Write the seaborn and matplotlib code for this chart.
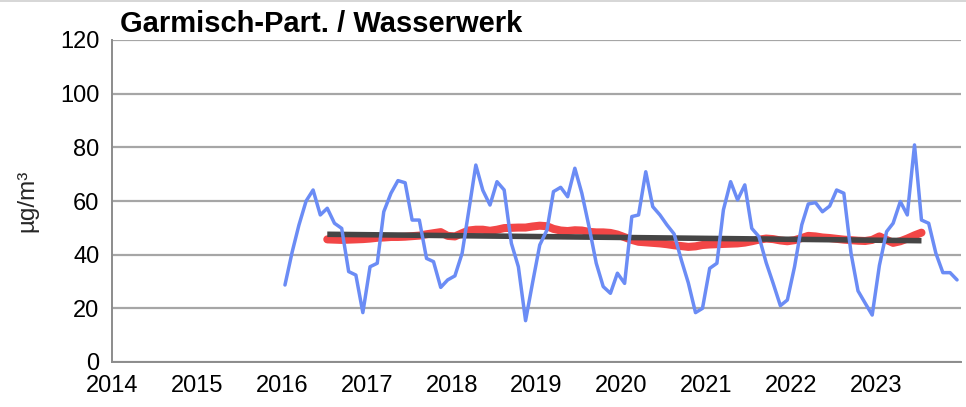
import numpy as np
import pandas as pd
import matplotlib
matplotlib.use("Agg")
import matplotlib.pyplot as plt
import matplotlib.dates as mdates
import seaborn as sns

# ---------------- data ----------------
title = "Garmisch-Part. / Wasserwerk"
y_label = "µg/m³"
year_ticks = list(range(2014, 2025))
year_labels = [str(y) for y in range(2014, 2024)] + [""]
y_ticks = [0, 20, 40, 60, 80, 100, 120]

# monthly means Jan 2016 .. Dec 2023
monthly_2016 = [28.7, 41.0, 51.0, 60.0, 64.1, 54.8, 57.3, 51.7, 49.8, 33.7, 32.4, 18.4]
monthly_2017 = [35.5, 36.8, 56.0, 62.9, 67.6, 66.8, 52.9, 52.9, 38.6, 37.4, 27.8, 30.6]
monthly_2018 = [32.1, 40.5, 56.0, 73.4, 64.0, 58.5, 67.2, 64.1, 44.2, 35.5, 15.4, 29.5]
monthly_2019 = [43.6, 49.2, 63.5, 65.1, 61.6, 72.2, 62.9, 50.4, 36.8, 28.1, 25.6, 33.1]
monthly_2020 = [29.3, 54.2, 54.8, 70.9, 57.9, 54.8, 51.1, 47.7, 38.0, 29.5, 18.4, 20.0]
monthly_2021 = [34.9, 36.8, 56.7, 67.2, 60.4, 66.0, 49.8, 46.7, 37.0, 29.3, 21.0, 23.1]
monthly_2022 = [35.5, 51.1, 58.9, 59.4, 56.0, 58.1, 64.1, 62.9, 40.5, 26.5, 21.9, 17.5]
monthly_2023 = [36.0, 48.6, 51.7, 59.8, 54.8, 80.9, 52.9, 51.7, 40.5, 33.3, 33.3, 30.6]

# 12-month running mean, Jul 2016 .. Jul 2023
running_mean = [
    45.7, 45.6, 45.5, 45.6, 45.7, 45.8,                                   # 2016 Jul-Dec
    46.0, 46.3, 46.4, 46.6, 46.6, 46.7, 46.9, 47.1, 47.6, 48.0, 48.4, 47.0,  # 2017
    46.8, 48.0, 49.0, 49.3, 49.3, 48.9, 49.3, 49.9, 50.0, 50.1, 50.1, 50.5,  # 2018
    50.8, 50.6, 49.6, 49.0, 48.8, 49.1, 49.0, 48.5, 48.3, 48.3, 48.1, 47.5,  # 2019
    46.5, 45.5, 44.8, 44.6, 44.4, 44.2, 43.9, 43.5, 43.2, 42.9, 43.1, 43.6,  # 2020
    43.8, 43.9, 44.0, 44.1, 44.2, 44.5, 45.0, 45.6, 46.0, 45.8, 45.3, 45.0,  # 2021
    45.4, 46.2, 47.0, 46.8, 46.4, 46.2, 45.9, 45.6, 45.4, 45.2, 45.1, 45.5,  # 2022
    46.8, 45.5, 44.4, 45.0, 46.0, 47.2, 48.2,                             # 2023 Jan-Jul
]

# linear trend, start (Jul 2016) and end (Jul 2023)
trend_values = [47.6, 45.2]

# ---------------- frames ----------------
monthly = (monthly_2016 + monthly_2017 + monthly_2018 + monthly_2019 +
           monthly_2020 + monthly_2021 + monthly_2022 + monthly_2023)
dates = pd.date_range("2016-01-01", periods=len(monthly), freq="MS") + pd.Timedelta(days=14)
df_month = pd.DataFrame({"date": dates, "value": monthly})
df_run = pd.DataFrame({"date": dates[6:6 + len(running_mean)], "value": running_mean})
df_trend = pd.DataFrame({"date": [dates[6], dates[6 + len(running_mean) - 1]],
                         "value": trend_values})

# ---------------- plot ----------------
sns.set_theme(style="white")
plt.rcParams["font.family"] = ["Liberation Sans", "DejaVu Sans"]

fig = plt.figure(figsize=(9.66, 4.07), dpi=100)
ax = fig.add_axes([112 / 966, 1 - 362 / 407, (961 - 112) / 966, (362 - 40) / 407])

sns.lineplot(data=df_run, x="date", y="value", ax=ax, color="#F24646",
             linewidth=5.8, solid_capstyle="round", zorder=3)
sns.lineplot(data=df_trend, x="date", y="value", ax=ax, color="#454545",
             linewidth=4.0, solid_capstyle="butt", zorder=4)
sns.lineplot(data=df_month, x="date", y="value", ax=ax, color="#6B8CF5",
             linewidth=2.5, zorder=5)

ax.set_xlim(pd.Timestamp("2014-01-01"), pd.Timestamp("2024-01-01"))
ax.set_ylim(0, 120)
ax.set_yticks(y_ticks)
ax.set_xticks([pd.Timestamp(f"{y}-01-01") for y in year_ticks])
ax.set_xticklabels(year_labels)
ax.tick_params(axis="both", labelsize=17, colors="#000000", length=5,
               width=1.2, direction="out", pad=4)
ax.tick_params(axis="both", color="#8C8C8C")
ax.yaxis.grid(True, color="#A6A6A6", linewidth=1.6)
ax.xaxis.grid(False)
for s in ["top", "right"]:
    ax.spines[s].set_visible(False)
for s in ["left", "bottom"]:
    ax.spines[s].set_color("#8C8C8C")
    ax.spines[s].set_linewidth(1.4)
ax.set_xlabel("")
ax.set_ylabel(y_label, fontsize=17.5, labelpad=16)

fig.text(120 / 966, 1 - 32 / 407, title, fontsize=21, fontweight="bold",
         ha="left", va="baseline", color="#000000")
fig.add_artist(plt.Line2D([0, 1], [0.997, 0.997], color="#D0D0D0", linewidth=1.2))

fig.savefig("out.png", dpi=100)
